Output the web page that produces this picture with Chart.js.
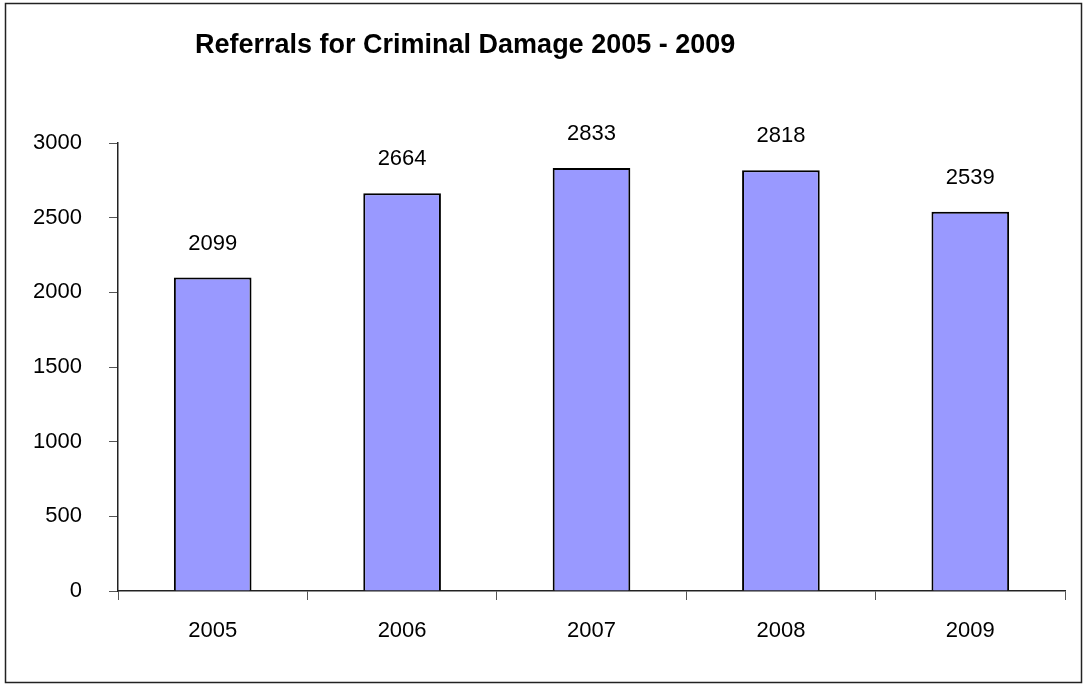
<!DOCTYPE html>
<html>
<head>
<meta charset="utf-8">
<script src="https://cdn.jsdelivr.net/npm/chart.js@4.4.0/dist/chart.umd.min.js"></script>
<style>
  html, body { margin: 0; padding: 0; background: #fff; }
  #wrap { width: 1086px; height: 684px; position: relative; }
</style>
</head>
<body>
<div id="wrap"><canvas id="referralsChart" width="1086" height="684"></canvas></div>
<script>
// data
const years = ['2005', '2006', '2007', '2008', '2009'];
const referrals = [2099, 2664, 2833, 2818, 2539];
const yTicks = [0, 500, 1000, 1500, 2000, 2500, 3000];
const chartTitle = 'Referrals for Criminal Damage 2005 - 2009';

const FONT = '"Liberation Sans", Arial, sans-serif';

// frame + title + value labels
const decorations = {
    id: 'decorations',
    afterDraw(chart) {
        const c = chart.ctx;
        c.save();
        c.strokeStyle = '#222';
        c.lineWidth = 1.5;
        c.strokeRect(5.5, 3.5, 1076, 679);

        c.fillStyle = '#000';
        c.font = 'bold 27px ' + FONT;
        c.textAlign = 'left';
        c.textBaseline = 'alphabetic';
        c.fillText(chartTitle, 195, 53);

        c.font = '22px ' + FONT;
        c.textAlign = 'center';
        chart.getDatasetMeta(0).data.forEach((bar, i) => {
            c.fillText(String(referrals[i]), bar.x, bar.y - 28);
        });
        c.restore();
    }
};

const ctx = document.getElementById('referralsChart').getContext('2d');
const referralsChart = new Chart(ctx, {
    type: 'bar',
    data: {
        labels: years,
        datasets: [{
            label: 'Referrals',
            data: referrals,
            backgroundColor: '#9999FF',
            borderColor: '#000',
            borderWidth: 2,
            categoryPercentage: 1,
            barPercentage: 0.41
        }]
    },
    options: {
        responsive: false,
        animation: false,
        layout: { padding: { top: 143, right: 21, bottom: 0, left: 0 } },
        plugins: {
            legend: { display: false },
            tooltip: { enabled: false },
            title: { display: false }
        },
        scales: {
            x: {
                afterFit: (s) => { s.height = 93; },
                border: { color: '#222', width: 1.5 },
                grid: {
                    offset: true,
                    drawOnChartArea: false,
                    drawTicks: true,
                    tickLength: 9,
                    color: '#555'
                },
                ticks: {
                    color: '#000',
                    padding: 18,
                    font: { family: FONT, size: 22 }
                }
            },
            y: {
                min: 0,
                max: 3000,
                afterFit: (s) => { s.width = 118; },
                afterBuildTicks: (s) => { s.ticks = yTicks.map(v => ({ value: v })); },
                border: { color: '#222', width: 1.5 },
                grid: {
                    drawOnChartArea: false,
                    drawTicks: true,
                    tickLength: 9,
                    color: '#555'
                },
                ticks: {
                    color: '#000',
                    padding: 27,
                    font: { family: FONT, size: 22 },
                    callback: (v) => String(v)
                }
            }
        }
    },
    plugins: [decorations]
});
</script>
</body>
</html>
